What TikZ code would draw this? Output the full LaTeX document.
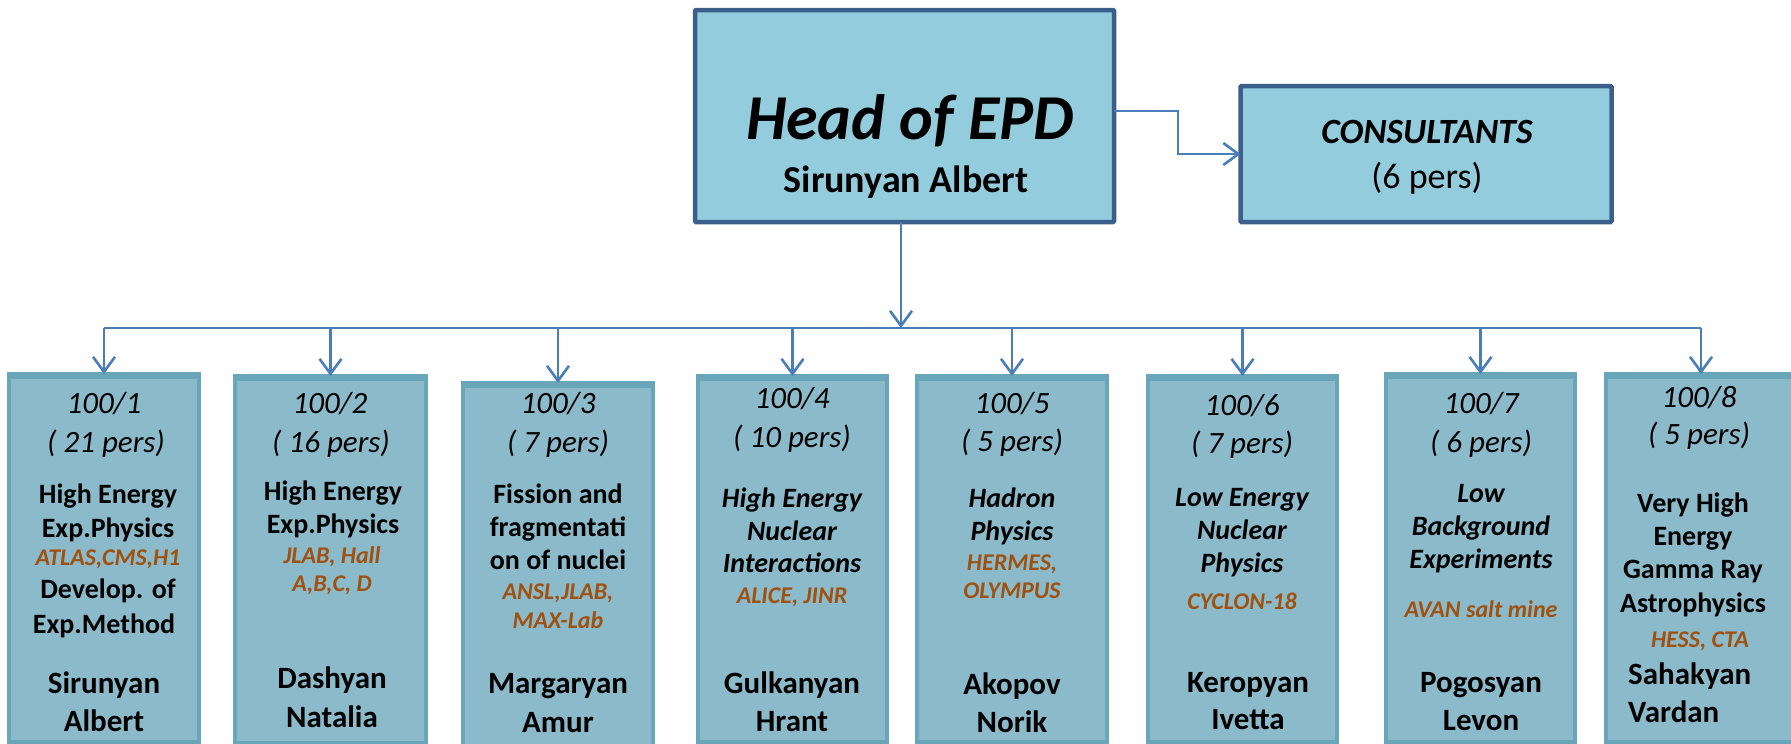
\documentclass[tikz,border=0pt]{standalone}
\usepackage{fontspec}
\setmainfont{Carlito}
\usetikzlibrary{arrows.meta}
\definecolor{headfill}{HTML}{93CDDD}
\definecolor{headdraw}{HTML}{3B5E8B}
\definecolor{subfill}{HTML}{8BBBCA}
\definecolor{subdraw}{HTML}{6AA6B9}
\definecolor{abl}{HTML}{4A7EBB}
\definecolor{orng}{HTML}{A0500F}
\newcommand\mytx[5]{\node[#4,inner sep=0pt,anchor=base] (#1) at (#2,#3) {#5};}
\begin{document}
\begin{tikzpicture}[x=1pt,y=-1pt,
  bigbox/.style={draw=headdraw,fill=headfill,line width=4.5pt,rounded corners=1pt,outer sep=0pt},
  subbox/.style={draw=subdraw,fill=subfill,line width=3.5pt,outer sep=0pt},
  topband/.style={draw=subdraw,line width=6pt},
  arr/.style={draw=abl,line width=2.6pt,-{Straight Barb[length=15pt,width=22pt,line width=2.6pt]}},
  bus/.style={draw=abl,line width=2.6pt},
  hdr/.style={font=\fontsize{31}{37}\selectfont\itshape},
  tpc/.style={font=\fontsize{28}{33}\selectfont\bfseries},
  tpci/.style={font=\fontsize{28}{33}\selectfont\bfseries\itshape},
  org/.style={font=\fontsize{24}{29}\selectfont\bfseries\itshape,text=orng},
  nm/.style={font=\fontsize{31}{37}\selectfont\bfseries}]
\useasboundingbox (0,0) rectangle (1791,744);
% main boxes
\node[bigbox,minimum width=419pt,minimum height=212pt] (head) at (904.5,116) {};
\node[bigbox,minimum width=371pt,minimum height=136pt] (cons) at (1426,154) {};
\mytx{h1}{910}{139}{font=\fontsize{64}{70}\selectfont\bfseries\itshape}{Head of EPD}
\mytx{h2}{906}{192}{font=\fontsize{38}{44}\selectfont\bfseries}{Sirunyan Albert}
\mytx{c1}{1427}{143}{font=\fontsize{35.5}{42}\selectfont\bfseries\itshape}{CONSULTANTS}
\mytx{c2}{1427}{188}{font=\fontsize{36}{42}\selectfont}{(6 pers)}
% sub boxes
\node[subbox,minimum width=190pt,minimum height=368pt] (b1) at (104,558) {};
\node[subbox,minimum width=191pt,minimum height=367pt] (b2) at (330.5,559.5) {};
\node[subbox,minimum width=190pt,minimum height=369pt] (b3) at (558,567.5) {};
\node[subbox,minimum width=189pt,minimum height=366pt] (b4) at (792.5,559) {};
\node[subbox,minimum width=190pt,minimum height=366pt] (b5) at (1012,559) {};
\node[subbox,minimum width=189pt,minimum height=366pt] (b6) at (1242.5,559) {};
\node[subbox,minimum width=189pt,minimum height=368pt] (b7) at (1480.5,558) {};
\node[subbox,minimum width=190pt,minimum height=368pt] (b8) at (1701,558) {};
\foreach \b in {b1,b2,b3,b4,b5,b6,b7,b8}{
  \draw[topband] ([yshift=-1.5pt]\b.north west) -- ([yshift=-1.5pt]\b.north east);
}
% connectors
\coordinate (busc) at (901,328);
\draw[arr] (head.south -| busc) -- (busc);
\draw[bus] (b1.north |- busc) -- (b8.north |- busc);
\foreach \b in {b1,b2,b3,b4,b5,b6,b7,b8}{
  \draw[arr] (\b.north |- busc) -- (\b.north);
}
\draw[arr] (head.east |- 0,111) -- ++(64,0) |- (cons.west);
% box 1
\mytx{t11}{104}{413}{hdr}{100/1}
\mytx{t12}{106}{452}{hdr}{( 21 pers)}
\mytx{t13}{108}{503}{tpc}{High Energy}
\mytx{t14}{108}{537}{tpc}{Exp.Physics}
\mytx{t15}{108}{565}{org}{ATLAS,CMS,H1}
\mytx{t16}{108}{598}{tpc}{Develop. of}
\mytx{t17}{104}{633}{tpc}{Exp.Method}
\mytx{t18}{104}{693}{nm}{Sirunyan}
\mytx{t19}{104}{731}{nm}{Albert}
% box 2
\mytx{t21}{330}{413}{hdr}{100/2}
\mytx{t22}{331}{452}{hdr}{( 16 pers)}
\mytx{t23}{333}{500}{tpc}{High Energy}
\mytx{t24}{333}{533}{tpc}{Exp.Physics}
\mytx{t25}{332}{563}{org}{JLAB, Hall}
\mytx{t26}{332}{591}{org}{A,B,C, D}
\mytx{t27}{332}{688}{nm}{Dashyan}
\mytx{t28}{332}{727}{nm}{Natalia}
% box 3
\mytx{t31}{558}{413}{hdr}{100/3}
\mytx{t32}{558}{452}{hdr}{( 7 pers)}
\mytx{t33}{558}{503}{tpc}{Fission and}
\mytx{t34}{558}{536}{tpc}{fragmentati}
\mytx{t35}{558}{569}{tpc}{on of nuclei}
\mytx{t36}{558}{599}{org}{ANSL,JLAB,}
\mytx{t37}{558}{628}{org}{MAX-Lab}
\mytx{t38}{558}{693}{nm}{Margaryan}
\mytx{t39}{558}{732}{nm}{Amur}
% box 4
\mytx{t41}{792}{408}{hdr}{100/4}
\mytx{t42}{792}{447}{hdr}{( 10 pers)}
\mytx{t43}{792}{507}{tpci}{High Energy}
\mytx{t44}{792}{540}{tpci}{Nuclear}
\mytx{t45}{792}{572}{tpci}{Interactions}
\mytx{t46}{792}{603}{org}{ALICE, JINR}
\mytx{t47}{792}{693}{nm}{Gulkanyan}
\mytx{t48}{792}{731}{nm}{Hrant}
% box 5
\mytx{t51}{1012}{413}{hdr}{100/5}
\mytx{t52}{1012}{451}{hdr}{( 5 pers)}
\mytx{t53}{1012}{507}{tpci}{Hadron}
\mytx{t54}{1012}{540}{tpci}{Physics}
\mytx{t55}{1012}{570}{org}{HERMES,}
\mytx{t56}{1012}{598}{org}{OLYMPUS}
\mytx{t57}{1012}{694}{nm}{Akopov}
\mytx{t58}{1012}{732}{nm}{Norik}
% box 6
\mytx{t61}{1242}{415}{hdr}{100/6}
\mytx{t62}{1242}{453}{hdr}{( 7 pers)}
\mytx{t63}{1242}{506}{tpci}{Low Energy}
\mytx{t64}{1242}{539}{tpci}{Nuclear}
\mytx{t65}{1242}{572}{tpci}{Physics}
\mytx{t66}{1242}{609}{org}{CYCLON-18}
\mytx{t67}{1248}{692}{nm}{Keropyan}
\mytx{t68}{1248}{729}{nm}{Ivetta}
% box 7
\mytx{t71}{1481}{413}{hdr}{100/7}
\mytx{t72}{1481}{452}{hdr}{( 6 pers)}
\mytx{t73}{1481}{502}{tpci}{Low}
\mytx{t74}{1481}{535}{tpci}{Background}
\mytx{t75}{1481}{568}{tpci}{Experiments}
\mytx{t76}{1481}{617}{org}{AVAN salt mine}
\mytx{t77}{1481}{692}{nm}{Pogosyan}
\mytx{t78}{1481}{730}{nm}{Levon}
% box 8
\mytx{t81}{1699}{407}{hdr}{100/8}
\mytx{t82}{1699}{444}{hdr}{( 5 pers)}
\mytx{t83}{1693}{512}{tpc}{Very High}
\mytx{t84}{1693}{545}{tpc}{Energy}
\mytx{t85}{1693}{578}{tpc}{Gamma Ray}
\mytx{t86}{1693}{612}{tpc}{Astrophysics}
\mytx{t87}{1700}{647}{org}{HESS, CTA}
\node[nm,inner sep=0pt,anchor=base west] (t88) at (1628,684) {Sahakyan};
\node[nm,inner sep=0pt,anchor=base west] (t89) at (1628,722) {Vardan};
\end{tikzpicture}
\end{document}
